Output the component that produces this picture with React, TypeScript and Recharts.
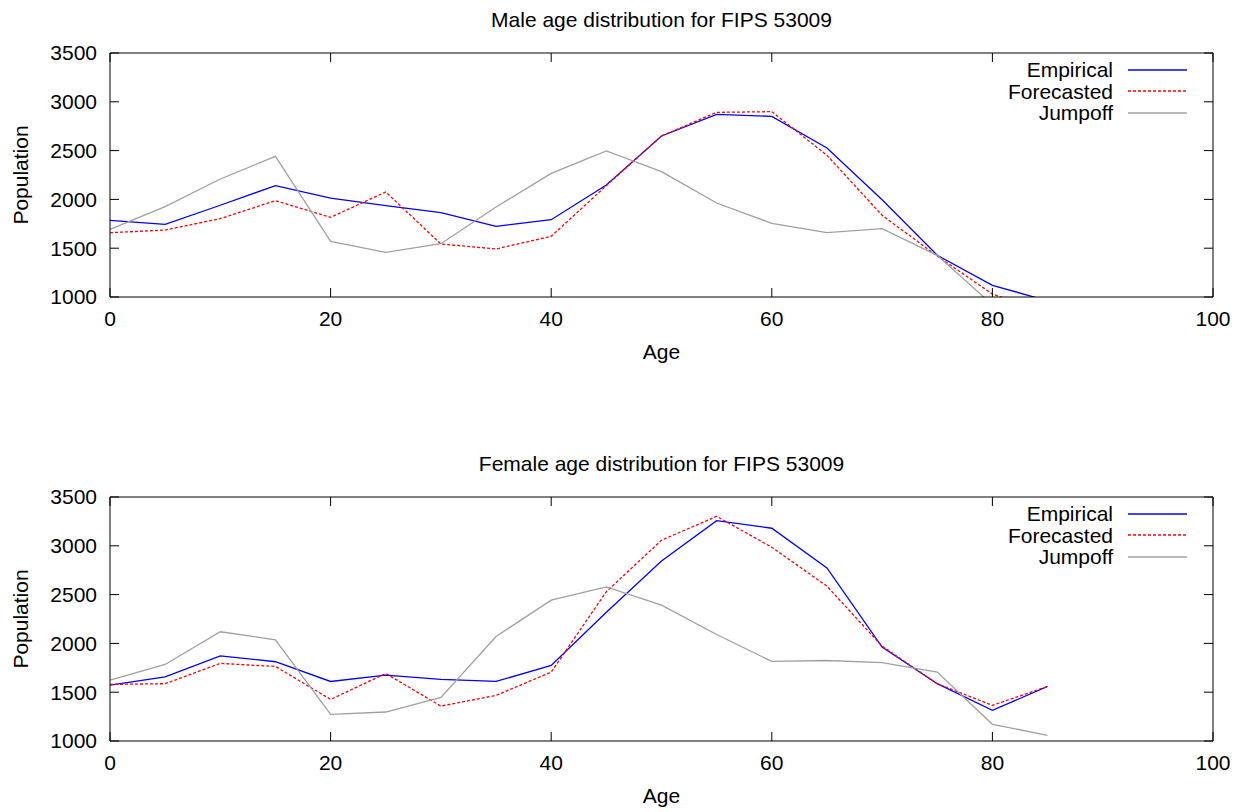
import React from 'react';
import { LineChart, Line, XAxis, YAxis, Legend, ReferenceLine } from 'recharts';

const ages = [0, 5, 10, 15, 20, 25, 30, 35, 40, 45, 50, 55, 60, 65, 70, 75, 80, 85];

const maleEmpirical = [1785, 1745, 1940, 2141, 2014, 1936, 1864, 1724, 1792, 2148, 2650, 2872, 2851, 2527, 1997, 1427, 1120, 960];
const maleForecasted = [1659, 1686, 1803, 1987, 1816, 2076, 1543, 1492, 1622, 2141, 2650, 2892, 2899, 2452, 1837, 1420, 1030, 840];
const maleJumpoff = [1693, 1926, 2209, 2441, 1570, 1458, 1546, 1922, 2267, 2496, 2285, 1963, 1755, 1659, 1700, 1427, 920, 800];

const femaleEmpirical = [1573, 1658, 1873, 1812, 1610, 1675, 1631, 1610, 1774, 2320, 2845, 3258, 3180, 2774, 1962, 1587, 1314, 1559];
const femaleForecasted = [1580, 1587, 1795, 1764, 1426, 1692, 1358, 1467, 1706, 2530, 3057, 3302, 2985, 2586, 1972, 1587, 1365, 1559];
const femaleJumpoff = [1624, 1784, 2119, 2037, 1273, 1297, 1447, 2071, 2443, 2579, 2392, 2091, 1815, 1825, 1802, 1706, 1171, 1058];

const xTicks = [0, 20, 40, 60, 80, 100];
const yTicks = [1000, 1500, 2000, 2500, 3000, 3500];

const FONT = '"Liberation Sans", Arial, Helvetica, sans-serif';

// plot box of each chart: 53..297 vertically, 110..1213 horizontally
const PLOT_W = 1103;
const PLOT_H = 244;
const TICK = 9;
const X_MARGIN = 14;
const Y_MARGIN = 13;

const series = [
  { key: 'empirical', name: 'Empirical', color: '#0000ff', dash: undefined as string | undefined },
  { key: 'forecasted', name: 'Forecasted', color: '#ff0000', dash: '3 2' },
  { key: 'jumpoff', name: 'Jumpoff', color: '#a0a0a0', dash: undefined as string | undefined },
];

const buildRows = (emp: number[], fc: number[], jo: number[]) =>
  ages.map((age, i) => ({ age, empirical: emp[i], forecasted: fc[i], jumpoff: jo[i] }));

const maleData = buildRows(maleEmpirical, maleForecasted, maleJumpoff);
const femaleData = buildRows(femaleEmpirical, femaleForecasted, femaleJumpoff);

// gnuplot style: ticks point inward and are mirrored on the opposite side
function XTick({ x, y, payload }: any) {
  const axisY = y - X_MARGIN;
  const topY = axisY - PLOT_H;
  return (
    <g>
      <line x1={x} x2={x} y1={axisY} y2={axisY - TICK} stroke="#000" />
      <line x1={x} x2={x} y1={topY} y2={topY + TICK} stroke="#000" />
      <text x={x} y={y} dy="0.71em" textAnchor="middle" fontSize={21} fontFamily={FONT} fill="#000">
        {payload.value}
      </text>
    </g>
  );
}

function YTick({ x, y, payload }: any) {
  const axisX = x + Y_MARGIN;
  const rightX = axisX + PLOT_W;
  return (
    <g>
      <line x1={axisX} x2={axisX + TICK} y1={y} y2={y} stroke="#000" />
      <line x1={rightX} x2={rightX - TICK} y1={y} y2={y} stroke="#000" />
      <text x={x} y={y} dy="0.355em" textAnchor="end" fontSize={21} fontFamily={FONT} fill="#000">
        {payload.value}
      </text>
    </g>
  );
}

function TitleText(props: any) {
  const vb = props.viewBox || { x: 110, y: 53, width: PLOT_W };
  return (
    <text x={vb.x + vb.width / 2} y={vb.y - 26.5} textAnchor="middle" fontSize={21} fontFamily={FONT} fill="#000">
      {props.text}
    </text>
  );
}

function AgeText(props: any) {
  const vb = props.viewBox || { x: 110, y: 297, width: PLOT_W };
  return (
    <text x={vb.x + vb.width / 2} y={vb.y + 61.5} textAnchor="middle" fontSize={21} fontFamily={FONT} fill="#000">
      Age
    </text>
  );
}

function PopText(props: any) {
  const vb = props.viewBox || { x: 0, y: 53, height: PLOT_H };
  const cx = 27.7;
  const cy = vb.y + vb.height / 2;
  return (
    <text x={cx} y={cy} transform={`rotate(-90, ${cx}, ${cy})`} textAnchor="middle" fontSize={21} fontFamily={FONT} fill="#000">
      Population
    </text>
  );
}

function GnuLegend() {
  return (
    <div style={{ fontFamily: FONT, fontSize: 21, color: '#000' }}>
      {series.map((s) => (
        <div key={s.key} style={{ display: 'flex', justifyContent: 'flex-end', alignItems: 'center', height: 21.5 }}>
          <span style={{ lineHeight: '21.5px' }}>{s.name}</span>
          <svg width={59} height={6} style={{ marginLeft: 15, display: 'block' }}>
            <line x1={0} x2={59} y1={3} y2={3} stroke={s.color} strokeWidth={1.3} strokeDasharray={s.dash} />
          </svg>
        </div>
      ))}
    </div>
  );
}

function AgeChart({ title, data, height }: { title: string; data: any[]; height: number }) {
  return (
    <LineChart width={1244} height={height} data={data} margin={{ top: 53, right: 31, bottom: height - 297 - 70, left: 0 }}>
      <XAxis
        xAxisId="b"
        dataKey="age"
        type="number"
        domain={[0, 100]}
        ticks={xTicks}
        interval={0}
        height={70}
        tickSize={0}
        tickMargin={X_MARGIN}
        tickLine={false}
        stroke="#000"
        tick={<XTick />}
        label={<AgeText />}
      />
      <YAxis
        yAxisId="l"
        type="number"
        domain={[1000, 3500]}
        ticks={yTicks}
        interval={0}
        allowDataOverflow
        width={110}
        tickSize={0}
        tickMargin={Y_MARGIN}
        tickLine={false}
        stroke="#000"
        tick={<YTick />}
        label={<PopText />}
      />
      {/* top and right border of the frame */}
      <ReferenceLine xAxisId="b" yAxisId="l" y={3500} stroke="#000" label={<TitleText text={title} />} />
      <ReferenceLine xAxisId="b" yAxisId="l" x={100} stroke="#000" />
      <Legend
        layout="vertical"
        align="center"
        verticalAlign="middle"
        content={<GnuLegend />}
        wrapperStyle={{ top: 59, left: 887, width: 300, height: 'auto', bottom: 'auto', right: 'auto' }}
      />
      {series.map((s) => (
        <Line
          key={s.key}
          xAxisId="b"
          yAxisId="l"
          type="linear"
          dataKey={s.key}
          name={s.name}
          stroke={s.color}
          strokeWidth={1.3}
          strokeDasharray={s.dash}
          dot={false}
          activeDot={false}
          isAnimationActive={false}
        />
      ))}
    </LineChart>
  );
}

export default function App() {
  return (
    <div style={{ position: 'absolute', left: 0, top: 0, width: 1244, height: 812, background: '#fff', fontFamily: FONT }}>
      <AgeChart title="Male age distribution for FIPS 53009" data={maleData} height={444} />
      <AgeChart title="Female age distribution for FIPS 53009" data={femaleData} height={368} />
    </div>
  );
}
